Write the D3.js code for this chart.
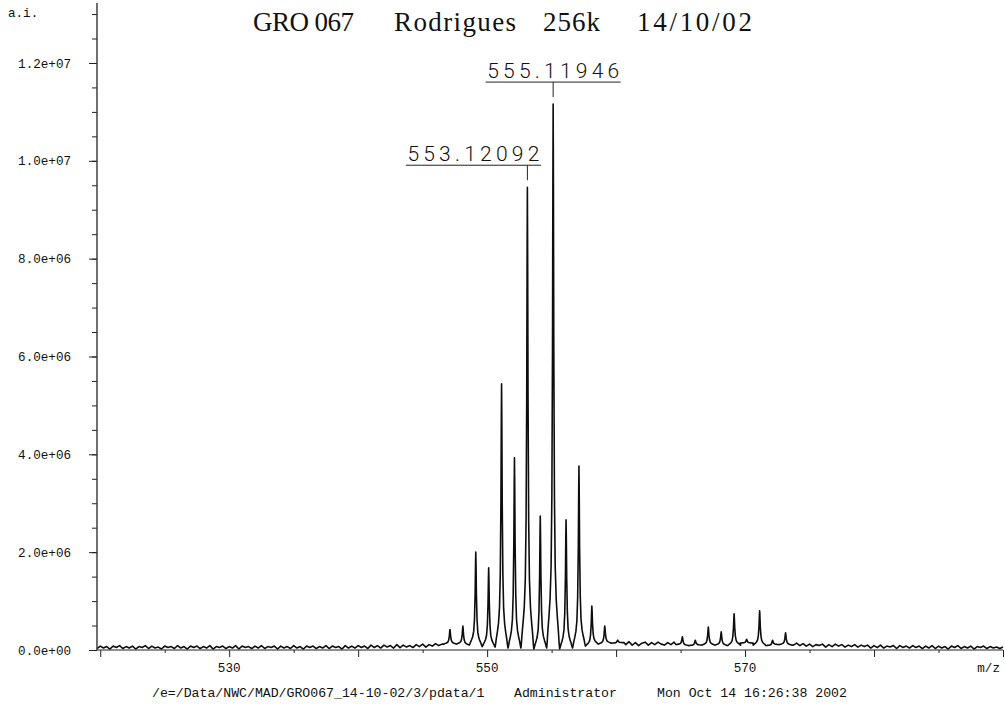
<!DOCTYPE html>
<html><head><meta charset="utf-8">
<script src="https://cdn.jsdelivr.net/npm/d3@7"></script>
<style>
body{margin:0;background:#fff}
svg{display:block}
.mono{font-family:"Liberation Mono","DejaVu Sans Mono",monospace;fill:#111}
</style>
</head><body>
<svg id="chart" width="1005" height="706"></svg>
<script>
// Noise floor: first m/z of the grid, grid spacing, and intensity (units of 1e4 counts)
const baselineStart = 519.75;
const baselineStep = 0.25;
const baselineCounts = [
  3,8,4,7,2,8,5,9,3,7,4,8,2,7,5,9,3,8,4,6,
  2,8,5,7,3,9,4,7,2,8,5,8,3,7,4,9,2,7,5,8,
  3,7,4,9,2,8,5,7,3,8,4,9,3,7,5,8,2,8,4,7,
  3,9,4,7,2,8,5,8,3,7,4,9,3,8,5,7,2,9,4,8,
  4,9,5,8,3,10,5,9,4,10,6,9,4,11,5,10,6,9,5,11,
  7,12,6,11,8,13,9,12,12,12,12,12,11,11,10,10,9,8,8,7,
  7,6,6,6,5,5,4,4,4,4,4,4,3,3,2,2,2,3,3,4,
  4,3,3,2,2,3,3,4,5,6,7,8,9,10,11,12,13,13,14,14,
  12,16,10,15,11,17,10,15,9,14,16,10,15,11,16,12,10,15,11,16,
  11,15,10,14,9,15,11,16,10,14,11,15,10,16,11,14,9,15,11,14,
  10,15,9,14,10,15,11,16,9,14,10,14,11,15,9,13,10,14,9,13,
  8,12,7,11,9,12,6,11,7,12,8,11,6,10,7,11,6,10,7,10,
  4,9,5,10,4,8,6,9,3,9,5,8,4,9,5,8,3,8,4,9,
  3,8,4,7,2,8,5,9,3,7,4,8,2,7,5,8,3,7,4,6,
  3,6
];

// Peak centres (m/z) and apex intensities (units of 1e6 counts)
const peakMz = [547.12, 548.12, 549.12, 550.12, 551.12, 552.12, 553.12092, 554.12,
                555.11946, 556.12, 557.12, 558.12, 559.12, 560.12,
                565.14, 566.14, 567.15, 568.15, 569.15, 570.12, 571.13, 572.13, 573.14];
const peakHeight = [0.42, 0.49, 2.0, 1.68, 5.44, 3.93, 9.46, 2.74,
                    11.16, 2.66, 3.76, 0.9, 0.49, 0.2,
                    0.27, 0.2, 0.47, 0.37, 0.74, 0.22, 0.8, 0.2, 0.35];

// Shape of a single peak: offset from centre (m/z) and fraction of apex height above the floor
const profileOffset = [0, 0.02, 0.05, 0.1, 0.16, 0.24, 0.32, 0.4, 0.46, 0.5];
const profileFraction = [1, 0.86, 0.55, 0.28, 0.15, 0.09, 0.06, 0.035, 0.012, 0];

// Annotated peaks
const labelMz = [553.12092, 555.11946];
const labelText = ["553.12092", "555.11946"];

// Axis ticks and labels
const yTickValues = [0, 2e6, 4e6, 6e6, 8e6, 1e7, 1.2e7];
const yTickLabels = ["0.0e+00", "2.0e+06", "4.0e+06", "6.0e+06", "8.0e+06", "1.0e+07", "1.2e+07"];
const xTickValues = [530, 550, 570];
const xTickLabels = ["530", "550", "570"];

const titleParts = ["GRO 067", "Rodrigues", "256k", "14/10/02"];
const footerParts = ["/e=/Data/NWC/MAD/GRO067_14-10-02/3/pdata/1", "Administrator", "Mon Oct 14 16:26:38 2002"];

// ---- layout ----
const plot = {left: 97, right: 1003, top: 3, bottom: 650};
const titleX = [253, 394, 543, 637];
const titleW = [101, 122, 57, 115];
const footerX = [152, 514, 657];
const labelShift = [-54, 0];   // horizontal offset of each annotation box from its peak
const labelWidth = 135;

const svg = d3.select("#chart");

const x = d3.scaleLinear().domain([baselineStart, 590]).range([plot.left, plot.right]);
const y = d3.scaleLinear().domain([0, 1.3226e7]).range([plot.bottom, plot.top]);

// ---- spectrum trace ----
const pts = [];
baselineCounts.forEach((c, i) => {
  const mz = baselineStart + i * baselineStep;
  if (!peakMz.some(p => Math.abs(mz - p) <= 0.5)) pts.push([mz, c * 1e4]);
});
const floorAt = mz => baselineCounts[Math.max(0, Math.min(baselineCounts.length - 1,
  Math.round((mz - baselineStart) / baselineStep)))] * 1e4;
peakMz.forEach((p, k) => {
  const h = peakHeight[k] * 1e6;
  const fl = floorAt(p - 0.5), fr = floorAt(p + 0.5);
  profileOffset.forEach((o, j) => {
    const f = profileFraction[j];
    if (o === 0) { pts.push([p, h]); return; }
    pts.push([p - o, fl + (h - fl) * f]);
    pts.push([p + o, fr + (h - fr) * f]);
  });
});
pts.sort((a, b) => a[0] - b[0]);

svg.append("path")
  .datum(pts)
  .attr("fill", "none")
  .attr("stroke", "#0d0d0d")
  .attr("stroke-width", 1.6)
  .attr("stroke-linejoin", "round")
  .attr("d", d3.line().x(d => x(d[0])).y(d => y(d[1])));

// ---- y axis ----
const yMinor = svg.append("g").attr("transform", `translate(${plot.left},0)`)
  .call(d3.axisLeft(y).tickValues(d3.range(0, 1.31e7, 5e5)).tickSize(5).tickSizeOuter(0).tickFormat(""));
const yMajor = svg.append("g").attr("transform", `translate(${plot.left},0)`)
  .call(d3.axisLeft(y).tickValues(yTickValues).tickSize(8).tickSizeOuter(0)
    .tickFormat((d, i) => yTickLabels[i]).tickPadding(18));
[yMinor, yMajor].forEach(g => {
  g.select(".domain").remove();
  g.selectAll("line").attr("stroke", "#222").attr("stroke-width", 1);
});
yMajor.selectAll("text").attr("class", "mono").attr("font-size", 12.6).attr("fill", "#111")
  .attr("font-family", "Liberation Mono, monospace").attr("dy", "0.33em");
svg.append("line").attr("x1", plot.left).attr("x2", plot.left)
  .attr("y1", plot.top).attr("y2", plot.bottom).attr("stroke", "#333").attr("stroke-width", 1.4);

// ---- x axis ----
const xMinor = svg.append("g").attr("transform", `translate(0,${plot.bottom})`)
  .call(d3.axisBottom(x).tickValues(d3.range(525, 590, 10)).tickSize(3).tickSizeOuter(0).tickFormat(""));
const xMajor = svg.append("g").attr("transform", `translate(0,${plot.bottom})`)
  .call(d3.axisBottom(x).tickValues(d3.range(520, 591, 10)).tickSize(7).tickSizeOuter(0).tickFormat(""));
[xMinor, xMajor].forEach(g => {
  g.select(".domain").remove();
  g.selectAll("line").attr("stroke", "#222").attr("stroke-width", 1);
});
svg.append("line").attr("x1", plot.left).attr("x2", plot.right)
  .attr("y1", plot.bottom).attr("y2", plot.bottom).attr("stroke", "#222").attr("stroke-width", 1.2);

svg.selectAll("text.xlab").data(xTickValues).enter().append("text")
  .attr("class", "mono xlab").attr("font-size", 12.6)
  .attr("x", d => x(d)).attr("y", 672).attr("text-anchor", "middle")
  .text((d, i) => xTickLabels[i]);

svg.append("text").attr("class", "mono").attr("font-size", 12.6)
  .attr("x", 1000).attr("y", 672).attr("text-anchor", "end").text("m/z");
svg.append("text").attr("class", "mono").attr("font-size", 12.6)
  .attr("x", 8).attr("y", 17).text("a.i.");

// ---- title ----
svg.selectAll("text.title").data(titleParts).enter().append("text")
  .attr("class", "title")
  .attr("x", (d, i) => titleX[i]).attr("y", 31)
  .attr("font-family", "Liberation Serif, DejaVu Serif, serif")
  .attr("font-size", 27).attr("fill", "#111")
  .attr("textLength", (d, i) => titleW[i]).attr("lengthAdjust", "spacing")
  .text(d => d);

// ---- footer ----
svg.selectAll("text.footer").data(footerParts).enter().append("text")
  .attr("class", "mono footer").attr("font-size", 13.2)
  .attr("x", (d, i) => footerX[i]).attr("y", 697)
  .text(d => d);

// ---- peak annotations ----
labelMz.forEach((mz, i) => {
  const k = peakMz.indexOf(mz);
  const px = x(mz);
  const top = y(peakHeight[k] * 1e6);
  const lineY = top - 22;
  const cx = px + labelShift[i];
  const g = svg.append("g");
  g.append("line").attr("x1", cx - labelWidth / 2).attr("x2", cx + labelWidth / 2)
    .attr("y1", lineY).attr("y2", lineY).attr("stroke", "#222").attr("stroke-width", 1);
  g.append("line").attr("x1", px).attr("x2", px)
    .attr("y1", lineY).attr("y2", top - 7).attr("stroke", "#222").attr("stroke-width", 1);
  g.append("text").attr("x", cx).attr("y", lineY - 4).attr("text-anchor", "middle")
    .attr("font-family", "Roboto, Liberation Sans, sans-serif").attr("font-weight", 300)
    .attr("font-size", 21).attr("fill", "#111")
    .attr("textLength", labelWidth - 3).attr("lengthAdjust", "spacing")
    .text(labelText[i]);
});
</script>
</body></html>
